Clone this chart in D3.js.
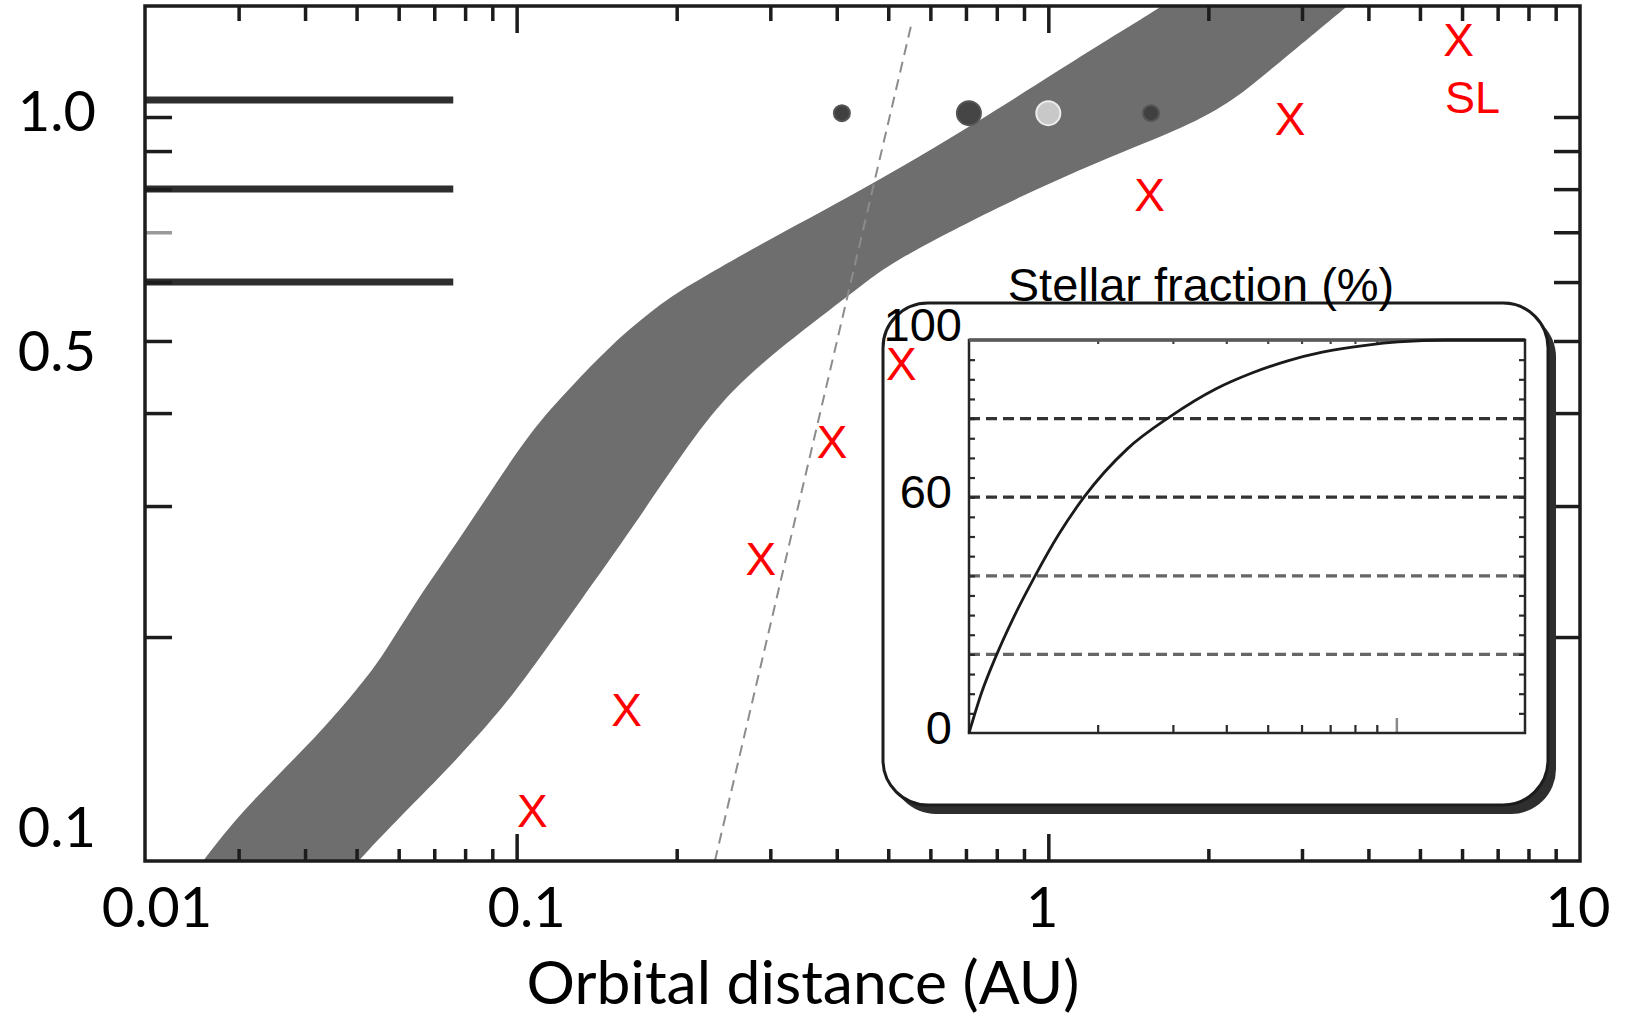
<!DOCTYPE html>
<html>
<head>
<meta charset="utf-8">
<script src="https://cdn.jsdelivr.net/npm/d3@7"></script>
<style>
html,body{margin:0;padding:0;background:#fff;}
svg{display:block;}
</style>
</head>
<body>
<svg id="chart" width="1627" height="1017"></svg>
<script>
// ---------------- DATA ----------------
// main axes
const xTickValues = [0.02, 0.1, 1, 10];
const xTickLabels = ["0.01", "0.1", "1", "10"];
const xMinorTicks = [0.03,0.04,0.05,0.06,0.07,0.08,0.09,0.2,0.3,0.4,0.5,0.6,0.7,0.8,0.9,2,3,4,5,6,7,8,9];
const xMajorTicks = [0.1, 1];
const yTickValues = [1.0, 0.5, 0.1];
const yTickLabels = ["1.0", "0.5", "0.1"];
const yMinorTicks = [1.0,0.9,0.8,0.7,0.6,0.5,0.4,0.3,0.2];
const xTitle = "Orbital distance (AU)";

// reference lines at left (stellar masses)
const refLineMass = [1.054, 0.8, 0.6];
const refLineEndDist = 0.076;

// band: upper/left edge (bottom -> top)
const bandUpperDist = [0.0235,0.0242,0.0257,0.0298,0.0359,0.0431,0.0503,0.0554,0.0644,0.0740,0.0880,0.1065,0.1266,0.1487,0.1895,0.2196,0.2810,0.4467,0.7131,1.258,1.632,1.859,1.95];
const bandUpperMass = [0.090,0.0943,0.1,0.1146,0.1313,0.150,0.1708,0.1862,0.2222,0.2563,0.3084,0.3796,0.4336,0.4907,0.5675,0.6037,0.6686,0.7977,0.9695,1.257,1.405,1.504,1.55];
// band: lower/right edge (top -> bottom)
const bandLowerDist = [4.3,4.053,3.637,3.221,2.651,2.239,1.818,1.258,0.830,0.522,0.4506,0.3905,0.3146,0.2532,0.2130,0.1642,0.1322,0.1065,0.0935,0.0740,0.0588,0.0503,0.0472,0.046];
const bandLowerMass = [1.55,1.504,1.405,1.309,1.167,1.054,0.9695,0.8755,0.766,0.646,0.598,0.552,0.4907,0.4296,0.3681,0.2786,0.2243,0.1806,0.1596,0.1325,0.1125,0.1,0.0943,0.090];

// solar system planets
const planetNames = ["Mercury","Venus","Earth","Mars"];
const planetDist = [0.409, 0.709, 1.0, 1.56];
const planetMass = [1.012, 1.012, 1.012, 1.012];
const planetKind = ["small","large","earth","small"];

// red X markers
const xMarkDist = [0.107, 0.161, 0.288, 0.392, 0.529, 1.55, 2.85, 5.91];
const xMarkMass = [0.117, 0.160, 0.255, 0.366, 0.466, 0.788, 0.997, 1.27];
const xMarkLabel = ["", "", "", "", "", "", "", "SL"];

// dashed line
const dashDist = [0.236, 0.555];
const dashMass = [0.1, 1.35];

// inset: stellar fraction
const insetTitle = "Stellar fraction (%)";
const fracDist  = [1, 1.072, 1.156, 1.273, 1.425, 1.621, 1.864, 2.347, 2.955, 3.787, 4.592, 5.568, 6.71, 8.56, 10.1, 13.1, 20];
const fracValue = [0, 10.5,  19.5,  29.5,  39.8,  50.5,  60.2,  72.3,  80.5,  87.6,  91.6,  94.7,  96.9, 98.7, 99.5, 100, 100];
const insetGrid = [20, 40, 60, 80];
const insetYLabels = [0, 60, 100];
const insetXMinor = [2,3,4,5,6,7,8,9];
const insetXMajor = [10];
const insetYMinor = d3.range(5, 100, 5);

// ---------------- LAYOUT ----------------
const svg = d3.select("#chart");
const L = 145, R = 1580, T = 6, B = 861;
const x = d3.scaleLog().domain([0.02, 10]).range([L, R]);
const y = d3.scaleLog().domain([0.1, 1.41]).range([B, T]);
const ink = "#1c1c1c";
const latin = "Lato, 'Open Sans', sans-serif";
const arial = "'Liberation Sans', Arial, sans-serif";
// label nudges (pixels) to follow the reference's hand-placed labels
const xLabelNudge = [12, 10, -6, -2];
const yLabelNudge = [-4, 12, -32];

svg.append("rect").attr("width",1627).attr("height",1017).attr("fill","#fff");

const defs = svg.append("defs");
defs.append("clipPath").attr("id","plotclip").append("rect")
  .attr("x",L).attr("y",T).attr("width",R-L).attr("height",B-T);

const plot = svg.append("g").attr("clip-path","url(#plotclip)");

// band
const bandPts = bandUpperDist.map((d,i)=>[d, bandUpperMass[i]])
  .concat(bandLowerDist.map((d,i)=>[d, bandLowerMass[i]]));
const bandLine = d3.line().x(d=>x(d[0])).y(d=>y(d[1])).curve(d3.curveBasisClosed);
plot.append("path").attr("d", bandLine(bandPts)).attr("fill","#6e6e6e");

// dashed line
plot.append("path")
  .attr("d", d3.line().x(d=>x(d[0])).y(d=>y(d[1]))(dashDist.map((d,i)=>[d,dashMass[i]])))
  .attr("stroke","#8c8c8c").attr("stroke-width",2).attr("stroke-dasharray","11,7").attr("fill","none");

// reference lines
plot.selectAll(".ref").data(refLineMass).enter().append("line")
  .attr("x1", x(0.02)).attr("x2", x(refLineEndDist))
  .attr("y1", d=>y(d)).attr("y2", d=>y(d))
  .attr("stroke","#2e2e2e").attr("stroke-width",7);

// axes ticks
function styleTicks(g, colorFn){
  g.select(".domain").remove();
  g.selectAll(".tick line").attr("stroke", d => colorFn ? colorFn(d) : ink).attr("stroke-width",3.5);
  g.selectAll(".tick text").remove();
}
svg.append("g").attr("transform",`translate(0,${B})`)
  .call(d3.axisBottom(x).tickValues(xMinorTicks).tickSize(-12).tickFormat(""))
  .call(g=>styleTicks(g));
svg.append("g").attr("transform",`translate(0,${B})`)
  .call(d3.axisBottom(x).tickValues(xMajorTicks).tickSize(-27).tickFormat(""))
  .call(g=>styleTicks(g));
svg.append("g").attr("transform",`translate(0,${T})`)
  .call(d3.axisTop(x).tickValues(xMinorTicks).tickSize(-15).tickFormat(""))
  .call(g=>styleTicks(g));
svg.append("g").attr("transform",`translate(0,${T})`)
  .call(d3.axisTop(x).tickValues(xMajorTicks).tickSize(-27).tickFormat(""))
  .call(g=>styleTicks(g));
svg.append("g").attr("transform",`translate(${L},0)`)
  .call(d3.axisLeft(y).tickValues(yMinorTicks).tickSize(-27).tickFormat(""))
  .call(g=>styleTicks(g, d => Math.abs(d-0.7)<1e-9 ? "#9a9a9a" : ink));
svg.append("g").attr("transform",`translate(${R},0)`)
  .call(d3.axisRight(y).tickValues(yMinorTicks).tickSize(-26).tickFormat(""))
  .call(g=>styleTicks(g));

// frame
svg.append("rect").attr("x",L).attr("y",T).attr("width",R-L).attr("height",B-T)
  .attr("fill","none").attr("stroke",ink).attr("stroke-width",3.5);

// tick labels
const xLab = svg.append("g").attr("transform",`translate(0,${B})`)
  .call(d3.axisBottom(x).tickValues(xTickValues).tickSize(0).tickPadding(26)
    .tickFormat((d,i)=>xTickLabels[i]));
xLab.select(".domain").remove();
xLab.attr("font-family", latin).attr("font-size", 56);
xLab.selectAll("text").attr("fill","#000");
xLab.selectAll(".tick").attr("transform", (d,i) => `translate(${x(d) + xLabelNudge[i]},0)`);

const yLab = svg.append("g").attr("transform",`translate(${L},0)`)
  .call(d3.axisLeft(y).tickValues(yTickValues).tickSize(0).tickPadding(49)
    .tickFormat((d,i)=>yTickLabels[i]));
yLab.select(".domain").remove();
yLab.attr("font-family", latin).attr("font-size", 56);
yLab.selectAll("text").attr("fill","#000");
yLab.selectAll(".tick").attr("transform", (d,i) => `translate(0,${y(d) + yLabelNudge[i]})`);

// axis title
const title = svg.append("text").attr("x", 803).attr("y", 1004)
  .attr("text-anchor","middle").attr("font-family", latin).attr("font-size", 60)
  .attr("fill","#000").text(xTitle);
{
  const w = title.node().getComputedTextLength();
  title.attr("font-size", 60 * 553 / w);
}

// planets
const pStyle = {
  small: {r: 8, fill: "#404040", stroke: "#555"},
  large: {r: 12, fill: "#454545", stroke: "#555"},
  earth: {r: 12, fill: "#c8c8c8", stroke: "#ececec"}
};
svg.selectAll(".planet").data(planetNames).enter().append("circle")
  .attr("cx",(d,i)=>x(planetDist[i])).attr("cy",(d,i)=>y(planetMass[i]))
  .attr("r",(d,i)=>pStyle[planetKind[i]].r)
  .attr("fill",(d,i)=>pStyle[planetKind[i]].fill)
  .attr("stroke",(d,i)=>pStyle[planetKind[i]].stroke).attr("stroke-width",2);

// ---------------- INSET ----------------
const box = {x0: 883, y0: 303, x1: 1548, y1: 805, r: 45};
svg.append("rect").attr("x",box.x0+8).attr("y",box.y0+9)
  .attr("width",box.x1-box.x0).attr("height",box.y1-box.y0)
  .attr("rx",box.r).attr("fill","#2e2e2e");
svg.append("rect").attr("x",box.x0).attr("y",box.y0)
  .attr("width",box.x1-box.x0).attr("height",box.y1-box.y0)
  .attr("rx",box.r).attr("fill","#fff").attr("stroke",ink).attr("stroke-width",3);

const iL = 969, iR = 1525, iT = 340, iB = 733;
const ix = d3.scaleLog().domain([1, 20]).range([iL, iR]);
const iy = d3.scaleLinear().domain([0, 100]).range([iB, iT]);

// grid
svg.selectAll(".igrid").data(insetGrid).enter().append("line")
  .attr("x1", iL).attr("x2", iR).attr("y1", d=>iy(d)).attr("y2", d=>iy(d))
  .attr("stroke", d => d >= 60 ? "#333" : "#666")
  .attr("stroke-width", 3.2).attr("stroke-dasharray","11,6");

function styleInset(g, col, w){
  g.select(".domain").remove();
  g.selectAll(".tick line").attr("stroke", col || "#2a2a2a").attr("stroke-width", w || 2.2);
  g.selectAll(".tick text").remove();
}
svg.append("g").attr("transform",`translate(0,${iB})`)
  .call(d3.axisBottom(ix).tickValues(insetXMinor).tickSize(-8).tickFormat("")).call(g=>styleInset(g));
svg.append("g").attr("transform",`translate(0,${iB})`)
  .call(d3.axisBottom(ix).tickValues(insetXMajor).tickSize(-15).tickFormat("")).call(g=>styleInset(g,"#8a8a8a",2.5));
svg.append("g").attr("transform",`translate(0,${iT})`)
  .call(d3.axisTop(ix).tickValues(insetXMinor).tickSize(-4).tickFormat("")).call(g=>styleInset(g,"#444"));
svg.append("g").attr("transform",`translate(${iL},0)`)
  .call(d3.axisLeft(iy).tickValues(insetYMinor).tickSize(-6).tickFormat("")).call(g=>styleInset(g));
svg.append("g").attr("transform",`translate(${iR},0)`)
  .call(d3.axisRight(iy).tickValues(insetYMinor).tickSize(-6).tickFormat("")).call(g=>styleInset(g));

svg.append("rect").attr("x",iL).attr("y",iT).attr("width",iR-iL).attr("height",iB-iT)
  .attr("fill","none").attr("stroke","#262626").attr("stroke-width",2.5);
svg.append("line").attr("x1",iL).attr("x2",iR).attr("y1",iT).attr("y2",iT)
  .attr("stroke","#5a5a5a").attr("stroke-width",3.5);

// curve
svg.append("path")
  .attr("d", d3.line().x(d=>ix(d[0])).y(d=>iy(d[1])).curve(d3.curveMonotoneX)(fracDist.map((d,i)=>[d, fracValue[i]])))
  .attr("fill","none").attr("stroke","#1a1a1a").attr("stroke-width",2.8);

// inset y labels
const iyLab = svg.append("g").attr("transform",`translate(${iL},0)`)
  .call(d3.axisLeft(iy).tickValues(insetYLabels).tickSize(0).tickPadding(17).tickFormat(d3.format("d")));
iyLab.select(".domain").remove();
iyLab.attr("font-family", arial).attr("font-size", 47);
iyLab.selectAll("text").attr("fill","#000");
iyLab.selectAll(".tick").attr("transform", d => d===100 ? `translate(10,${iy(d) - 14})` : `translate(0,${iy(d) - 4})`);

// inset title
svg.append("text").attr("x", 1201).attr("y", 301).attr("text-anchor","middle")
  .attr("font-family", arial).attr("font-size", 47).attr("fill","#000").text(insetTitle);

// ---------------- RED X MARKERS ----------------
const marks = svg.selectAll(".xmark").data(xMarkDist).enter().append("g")
  .attr("transform",(d,i)=>`translate(${x(d)},${y(xMarkMass[i])})`);
marks.append("text").attr("text-anchor","middle").attr("dy","0.36em")
  .attr("font-family", arial).attr("font-size", 46).attr("fill","#ff0000").text("X");
marks.filter((d,i)=>xMarkLabel[i] !== "").append("text").attr("text-anchor","middle").attr("x",14).attr("y",57).attr("dy","0.36em")
  .attr("font-family", arial).attr("font-size", 45).attr("fill","#ff0000").text(d=>xMarkLabel[xMarkDist.indexOf(d)]);
</script>
</body>
</html>
